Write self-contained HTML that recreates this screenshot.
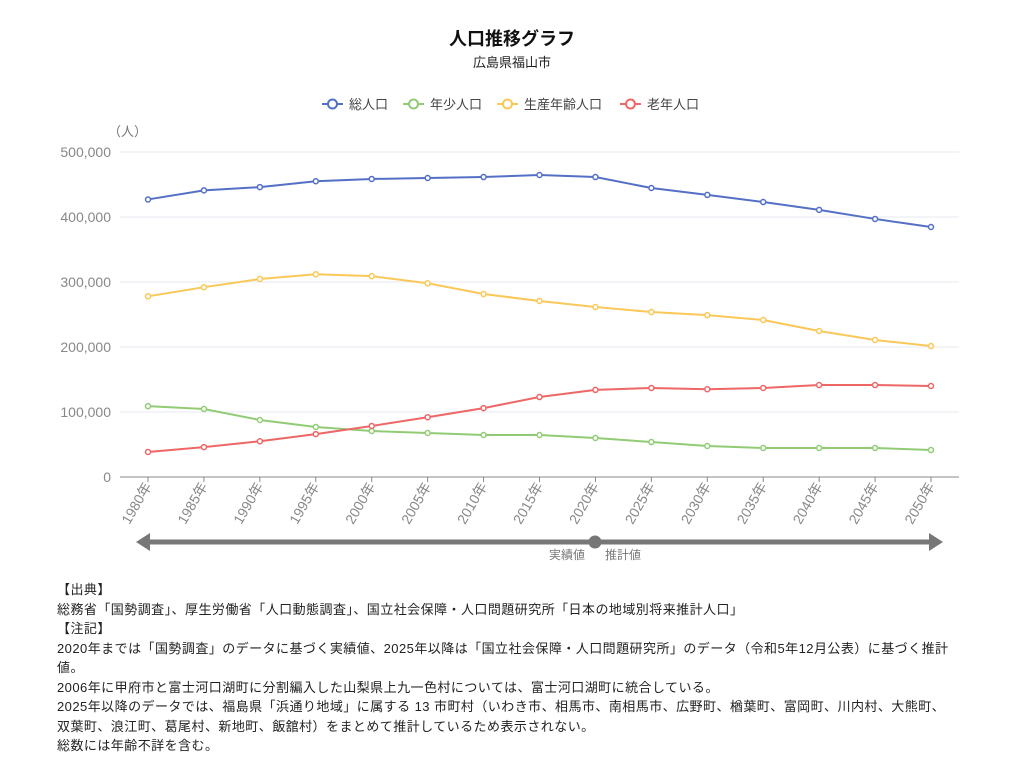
<!DOCTYPE html>
<html><head><meta charset="utf-8"><style>
html,body{margin:0;padding:0;background:#fff;width:1024px;height:762px;overflow:hidden}
body{font-family:"Liberation Sans","Noto Sans CJK JP",sans-serif;position:relative}
.notes{position:absolute;left:57px;top:580px;width:912px;font-size:13px;letter-spacing:0.45px;line-height:19.5px;color:#222;font-family:"Liberation Sans","Noto Sans CJK JP",sans-serif}
</style></head><body>
<svg id="s" width="1024" height="580" style="position:absolute;left:0;top:0" font-family="Liberation Sans, Noto Sans CJK JP, sans-serif">
<text x="512" y="45" text-anchor="middle" font-size="18" font-weight="bold" fill="#111">人口推移グラフ</text>
<text x="512" y="67" text-anchor="middle" font-size="13" fill="#222">広島県福山市</text>
<g font-size="13" fill="#444">
<line x1="322" y1="104" x2="343" y2="104" stroke="#5470c6" stroke-width="2"/><circle cx="332.5" cy="104" r="4.5" fill="#fff" stroke="#5470c6" stroke-width="2"/><text x="349" y="109">総人口</text>
<line x1="403" y1="104" x2="424" y2="104" stroke="#91cc75" stroke-width="2"/><circle cx="413.5" cy="104" r="4.5" fill="#fff" stroke="#91cc75" stroke-width="2"/><text x="430" y="109">年少人口</text>
<line x1="497" y1="104" x2="518" y2="104" stroke="#fac858" stroke-width="2"/><circle cx="507.5" cy="104" r="4.5" fill="#fff" stroke="#fac858" stroke-width="2"/><text x="524" y="109">生産年齢人口</text>
<line x1="620" y1="104" x2="641" y2="104" stroke="#ee6666" stroke-width="2"/><circle cx="630.5" cy="104" r="4.5" fill="#fff" stroke="#ee6666" stroke-width="2"/><text x="647" y="109">老年人口</text>
</g>
<text x="108" y="136" font-size="13" fill="#777">（人）</text>
<g id="grid"></g>
<g id="series"></g>
<line x1="148" y1="542" x2="931" y2="542" stroke="#777" stroke-width="5"/>
<polygon points="136,542 150,533 150,551" fill="#777"/>
<polygon points="943,542 929,533 929,551" fill="#777"/>
<circle cx="595" cy="542" r="6.5" fill="#777"/>
<text x="585" y="559" text-anchor="end" font-size="12" fill="#777">実績値</text>
<text x="605" y="559" font-size="12" fill="#777">推計値</text>
</svg>
<div class="notes">【出典】<br>総務省「国勢調査」、厚生労働省「人口動態調査」、国立社会保障・人口問題研究所「日本の地域別将来推計人口」<br>【注記】<br>2020年までは「国勢調査」のデータに基づく実績値、2025年以降は「国立社会保障・人口問題研究所」のデータ（令和5年12月公表）に基づく推計<br>値。<br>2006年に甲府市と富士河口湖町に分割編入した山梨県上九一色村については、富士河口湖町に統合している。<br>2025年以降のデータでは、福島県「浜通り地域」に属する 13 市町村（いわき市、相馬市、南相馬市、広野町、楢葉町、富岡町、川内村、大熊町、<br>双葉町、浪江町、葛尾村、新地町、飯舘村）をまとめて推計しているため表示されない。<br>総数には年齢不詳を含む。</div>
<script>
var NS="http://www.w3.org/2000/svg";
function el(t,a,p,txt){var e=document.createElementNS(NS,t);for(var k in a)e.setAttribute(k,a[k]);if(txt)e.textContent=txt;p.appendChild(e);return e;}
var g=document.getElementById('grid'),s=document.getElementById('series');
var X0=120,X1=959,x0=148,dx=(931-148)/14;
function Y(v){return 477-v*0.65;}
for(var i=0;i<=5;i++){var y=Y(i*100);
 el('line',{x1:X0,x2:X1,y1:y,y2:y,stroke:i?'#e6e9f0':'#888','stroke-width':1},g);
 el('text',{x:111,y:y+5,'text-anchor':'end','font-size':14,fill:'#888'},g,i?(i*100)+',000':'0');}
for(var i=0;i<15;i++){var x=x0+dx*i;
 el('line',{x1:x,x2:x,y1:477,y2:482,stroke:'#888'},g);
 el('text',{x:x+4,y:486,'text-anchor':'end','font-size':14,fill:'#888',transform:'rotate(-60 '+(x+4)+' 486)'},g,(1980+5*i)+'年');}
var D=[['#5470c6',[427,441,446,455,458.5,460,461.5,464.6,461.5,444.6,434,423,411,397,384.6]],
['#91cc75',[109,104.6,87.7,77,70.8,67.7,64.6,64.6,60,53.8,47.7,44.6,44.6,44.6,41.5]],
['#fac858',[278,292,304.6,312,309,298,281.5,270.8,261.5,253.8,249,241.5,224.6,210.8,201.5]],
['#ee6666',[38.5,46,55,66,78.5,92,106,123,134,137,135,137,141.5,141.5,140]]];
D.forEach(function(d){var pts=d[1].map(function(v,i){return (x0+dx*i)+','+Y(v)}).join(' ');
 el('polyline',{points:pts,fill:'none',stroke:d[0],'stroke-width':2},s);
 d[1].forEach(function(v,i){el('circle',{cx:x0+dx*i,cy:Y(v),r:2.5,fill:'#fff',stroke:d[0],'stroke-width':1.5},s);});});
</script>
</body></html>
